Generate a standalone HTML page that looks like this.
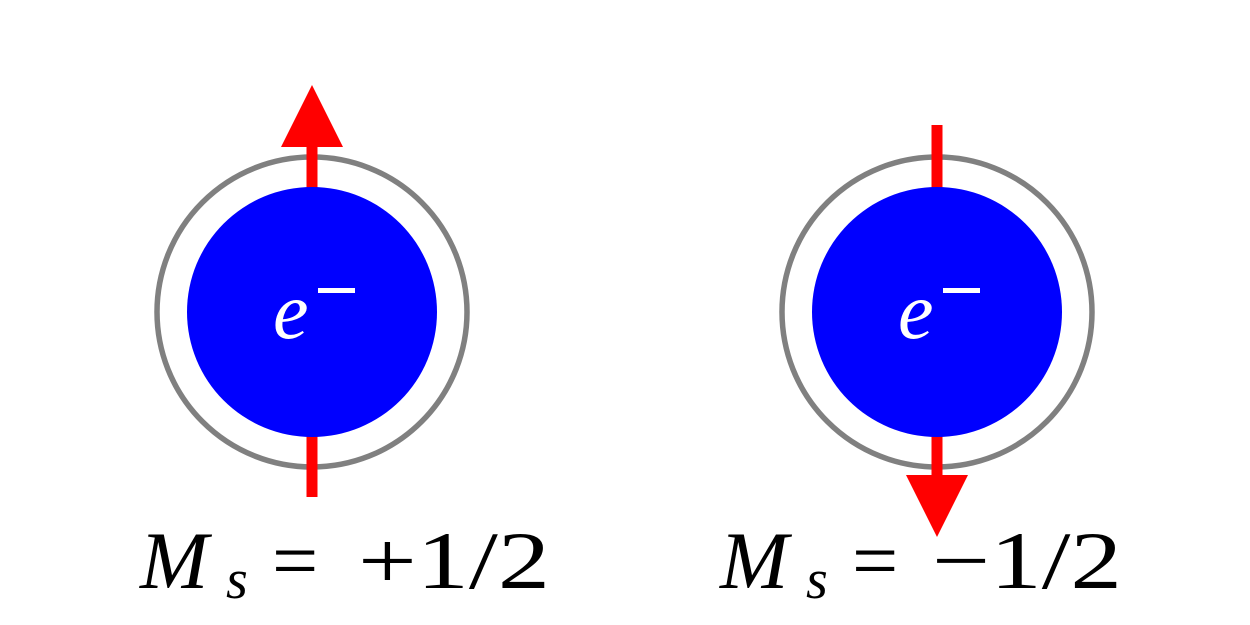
<!DOCTYPE html>
<html><head><meta charset="utf-8"><style>
html,body{margin:0;padding:0;background:#fff;}
svg{display:block;}
text{font-family:"Liberation Serif","DejaVu Serif",serif;}
</style></head><body>
<svg width="1250" height="625" viewBox="0 0 1250 625" xmlns="http://www.w3.org/2000/svg">
<g id="root"></g>
</svg>
<script>
const centersX = [312, 937];
const spins = [1, -1];
const labels = ["+1/2", "\u22121/2"];
const NS = "http://www.w3.org/2000/svg";
const root = document.getElementById('root');
function mk(tag, attrs, parent) {
  const e = document.createElementNS(NS, tag);
  for (const k in attrs) e.setAttribute(k, attrs[k]);
  (parent || root).appendChild(e);
  return e;
}
const cy = 312;
centersX.forEach((cx, i) => {
  const s = spins[i];
  const g = mk('g', {});
  
  
  const ring = mk('circle', {cx: cx, cy: cy, r: 155, fill: 'none', stroke: '#808080', 'stroke-width': 5.5}, g);
  
  
  const tipY = s > 0 ? 85 : 537;
  const baseY = s > 0 ? 147 : 475;
  const tailY = s > 0 ? 497 : 125;
  const line = mk('line', {x1: cx, y1: tailY, x2: cx, y2: baseY, stroke: '#ff0000', 'stroke-width': 11}, g);
  
  
  const head = mk('polygon', {points: `${cx-31},${baseY} ${cx+31},${baseY} ${cx},${tipY}`, fill: '#ff0000'}, g);
  
  
  const ball = mk('circle', {cx: cx, cy: cy, r: 125, fill: '#0000ff'}, g);
  
  
  const t = mk('text', {x: cx - 39, y: 338, fill: '#fff', 'font-style': 'italic', 'font-size': 80}, g);
  t.textContent = 'e';
  
  
  const m = mk('rect', {x: cx + 6, y: 288, width: 37, height: 5, fill: '#fff'}, g);
  
  
  const off = s > 0 ? 0 : 580;
  const lab = mk('text', {y: 588, fill: '#000', 'font-size': 82}, g);
  
  
  const tM = mk('tspan', {x: 140 + off, 'font-style': 'italic'}, lab); tM.textContent = 'M';
  const tS = mk('tspan', {x: 226 + off, y: 598, 'font-style': 'italic', 'font-size': 56}, lab); tS.textContent = 's';
  const tE = mk('tspan', {x: 272 + off, y: 588}, lab); tE.textContent = '=';
  const tR = mk('tspan', {x: (s > 0 ? 358 : 352) + off, y: 588, textLength: s > 0 ? 192 : 190, lengthAdjust: 'spacingAndGlyphs'}, lab); tR.textContent = labels[i];
});
</script>
</body></html>
